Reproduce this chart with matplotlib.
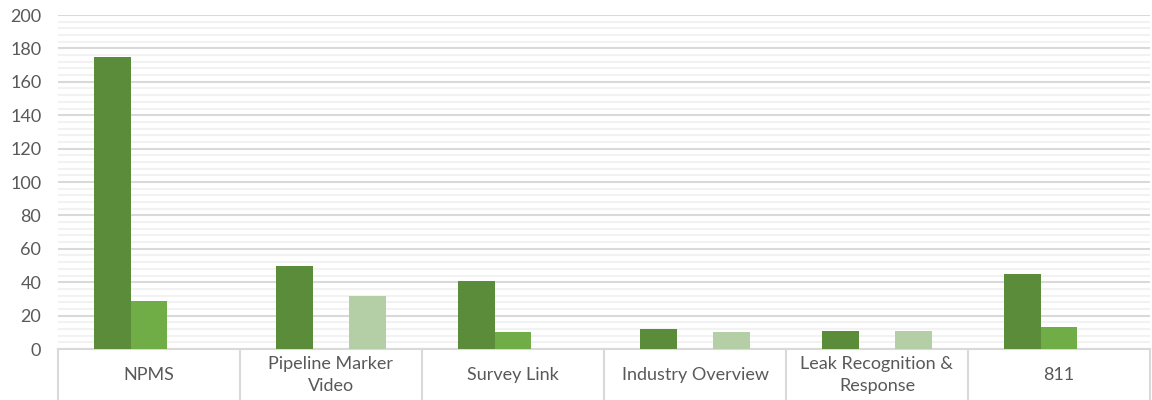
import numpy as np
import matplotlib.pyplot as plt
from matplotlib.lines import Line2D
from matplotlib.ticker import MultipleLocator

categories = ['NPMS', 'Pipeline Marker\nVideo', 'Survey Link', 'Industry Overview',
              'Leak Recognition &\nResponse', '811']
series_a = [175, 50, 41, 12, 11, 45]
series_b = [29, 0, 10, 0, 0, 13]
series_c = [0, 32, 0, 10, 11, 0]

colors = ['#5B8C3A', '#70AD47', '#B4CEA6']
grey = '#D9D9D9'
txt = '#595959'

plt.rcParams['font.family'] = ['Lato', 'DejaVu Sans']

fig = plt.figure(figsize=(11.52, 4.0), dpi=100)
ax = fig.add_axes([58/1152, 51/400, 1092/1152, 334/400])

x = np.arange(len(categories))
w = 0.2
for k, vals in enumerate([series_a, series_b, series_c]):
    ax.bar(x + (k - 1) * w, vals, width=w, color=colors[k], zorder=3)

ax.set_xlim(-0.5, len(categories) - 0.5)
ax.set_ylim(0, 200)
ax.yaxis.set_major_locator(MultipleLocator(20))
ax.yaxis.set_minor_locator(MultipleLocator(4))
ax.grid(which='major', axis='y', color=grey, lw=1.5, zorder=1)
ax.grid(which='minor', axis='y', color='#F2F2F2', lw=1.5, zorder=0)

for s in ['top', 'right', 'left']:
    ax.spines[s].set_visible(False)
ax.spines['bottom'].set_color(grey)
ax.spines['bottom'].set_linewidth(1.5)

ax.set_xticks(x)
ax.set_xticklabels(categories, fontsize=13, color=txt, linespacing=1.45)
for lbl in ax.get_xticklabels():
    lbl.set_va('center')
ax.tick_params(axis='x', length=0, pad=19)
ax.tick_params(axis='y', which='both', length=0, pad=12, labelsize=13, labelcolor=txt)

# category separators below the axis
for b in np.arange(len(categories) + 1) - 0.5:
    ax.add_line(Line2D([b, b], [0, -51/334], transform=ax.get_xaxis_transform(),
                       color=grey, lw=1.5, clip_on=False))

fig.savefig('out.png', dpi=100)
